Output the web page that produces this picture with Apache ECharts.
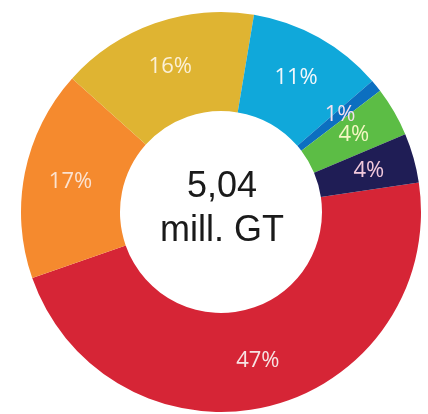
<!DOCTYPE html>
<html>
<head>
<meta charset="utf-8">
<script src="https://cdn.jsdelivr.net/npm/echarts@6/dist/echarts.min.js"></script>
<style>
html,body{margin:0;padding:0;background:#fff;}
#chart{width:428px;height:414px;}
</style>
</head>
<body>
<div id="chart"></div>
<script>
var categories = ['Red', 'Orange', 'Yellow', 'Blue', 'Dark blue', 'Green', 'Navy'];
var shares = [47, 17, 16, 11, 1, 4, 4];
var sliceColors = ['#d62536', '#f58a2e', '#dfb432', '#10a8da', '#0c6fc0', '#5cbd45', '#1f1d55'];
var labelColors = ['#f7e3e3', '#fbe2d0', '#fbf0d6', '#f2f7fb', '#f4e0ee', '#f5f7c4', '#f2c9dc'];
var centerLines = ['5,04', 'mill. GT'];

var chart = echarts.init(document.getElementById('chart'));
chart.setOption({
  animation: false,
  series: [{
    type: 'pie',
    center: [221, 212],
    radius: [101, 200],
    startAngle: 8.5,
    clockwise: true,
    avoidLabelOverlap: false,
    labelLayout: { hideOverlap: false },
    silent: true,
    label: {
      show: true,
      position: 'inside',
      formatter: '{c}%',
      fontFamily: 'Open Sans',
      fontSize: 22
    },
    labelLine: { show: false },
    itemStyle: { borderWidth: 0 },
    data: categories.map(function (n, i) {
      return {
        name: n,
        value: shares[i],
        itemStyle: { color: sliceColors[i] },
        label: { color: labelColors[i] }
      };
    })
  }],
  graphic: [{
    type: 'text',
    x: 222, y: 187,
    style: {
      text: centerLines[0],
      fill: '#1a1a1a',
      font: '36px "Liberation Sans", Arial, sans-serif',
      textAlign: 'center',
      textVerticalAlign: 'middle'
    }
  }, {
    type: 'text',
    x: 222, y: 231,
    style: {
      text: centerLines[1],
      fill: '#1a1a1a',
      font: '36px "Liberation Sans", Arial, sans-serif',
      textAlign: 'center',
      textVerticalAlign: 'middle'
    }
  }]
});
</script>
</body>
</html>
